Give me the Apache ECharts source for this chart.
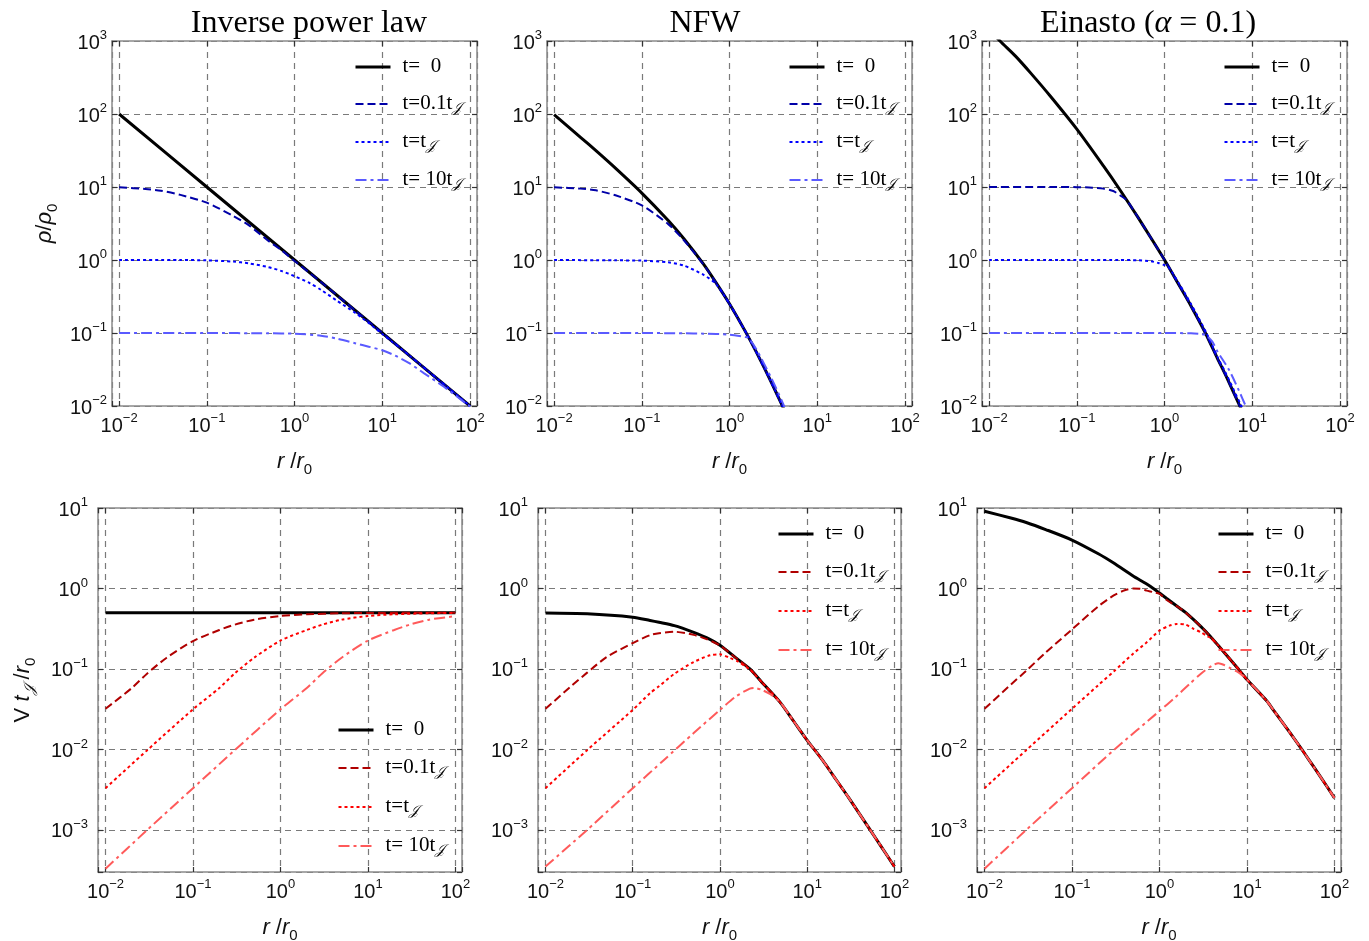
<!DOCTYPE html>
<html><head><meta charset="utf-8">
<script src="https://cdn.jsdelivr.net/npm/echarts@6/dist/echarts.min.js"></script>
<style>html,body{margin:0;padding:0;background:#fff}#c{width:1369px;height:941px}</style>
</head><body><div id="c"></div>
<script>
// ================= DATA =================
// x = r / r0, y = rho / rho0 (top row) or V tJ / r0 (bottom row)
const panelTitles = ['Inverse power law', 'NFW', 'Einasto (α = 0.1)'];
const legendLabels = ['t= 0', 't=0.1tJ', 't=tJ', 't= 10tJ'];
const xTickValues = [0.01, 0.1, 1, 10, 100];
const yTickValuesTop = [0.01, 0.1, 1, 10, 100, 1000];
const yTickValuesBottom = [0.001, 0.01, 0.1, 1, 10];

// --- Inverse power law: density ---
const iplRho0  = [[0.01,100],[0.1,10],[1,1],[10,0.1],[100,0.01]];
const iplRho01 = [[0.01,9.9],[0.02,9.4],[0.03,8.9],[0.05,7.8],[0.1,6.1],[0.2,4.0],[0.3,3.0],[0.5,1.84],[0.7,1.38],[1,0.97],[2,0.5],[5,0.2],[10,0.1],[100,0.01]];
const iplRho1  = [[0.01,1.0],[0.05,1.0],[0.1,0.99],[0.2,0.95],[0.3,0.9],[0.5,0.8],[0.7,0.71],[1,0.6],[1.5,0.48],[2,0.39],[3,0.28],[5,0.186],[7,0.137],[10,0.097],[20,0.05],[100,0.01]];
const iplRho10 = [[0.01,0.1],[0.1,0.1],[0.5,0.099],[1,0.098],[2,0.092],[3,0.084],[5,0.072],[7,0.065],[10,0.058],[14,0.049],[20,0.039],[30,0.028],[50,0.0185],[100,0.0098]];

// --- NFW: density ---
const nfwRho0  = [[0.01,98],[0.02,48],[0.03,31.4],[0.05,18.1],[0.1,8.26],[0.2,3.47],[0.3,1.97],[0.5,0.89],[0.7,0.49],[1,0.25],[1.5,0.107],[2,0.056],[3,0.021],[4,0.01],[5,0.0056]];
const nfwRho01 = [[0.01,9.9],[0.02,9.5],[0.03,9.0],[0.05,7.7],[0.1,5.6],[0.2,3.1],[0.3,1.88],[0.5,0.88],[0.7,0.49],[1,0.25],[1.5,0.107],[2,0.056],[3,0.021],[4,0.01],[5,0.0056]];
const nfwRho1  = [[0.01,1.0],[0.05,0.99],[0.1,0.98],[0.2,0.93],[0.3,0.84],[0.5,0.63],[0.7,0.47],[1,0.25],[1.5,0.107],[2,0.056],[3,0.021],[4,0.01],[5,0.0056]];
const nfwRho10 = [[0.01,0.1],[0.1,0.1],[0.3,0.099],[0.5,0.098],[1,0.095],[1.5,0.088],[1.65,0.085],[2,0.061],[3,0.024],[4,0.0113],[5,0.006]];

// --- Einasto (alpha = 0.1): density ---
const einRho0  = [[0.01,1450],[0.0133,1000],[0.02,620],[0.03,360],[0.05,175],[0.1,62],[0.2,19.6],[0.3,9.7],[0.5,3.8],[0.7,2.0],[1,1],[1.5,0.43],[2,0.235],[2.92,0.1],[4,0.045],[5,0.026],[7.2,0.01],[8,0.0076]];
const einRho01 = [[0.01,10],[0.05,10],[0.1,9.95],[0.15,9.8],[0.2,9.5],[0.26,8.8],[0.31,7.7],[0.37,6.6],[0.5,3.8],[0.7,2.0],[1,1],[1.5,0.43],[2,0.235],[2.92,0.1],[4,0.045],[5,0.026],[7.2,0.01],[8,0.0076]];
const einRho1  = [[0.01,1],[0.3,1],[0.5,0.99],[0.7,0.96],[0.85,0.91],[1,0.85],[1.11,0.8],[1.5,0.45],[2,0.25],[3,0.1],[4,0.047],[5,0.028],[7.5,0.01],[8.5,0.0075]];
const einRho10 = [[0.01,0.1],[1,0.1],[2,0.099],[2.5,0.097],[2.95,0.094],[3.5,0.076],[4,0.056],[5.4,0.0316],[7,0.0165],[8.4,0.01],[9.5,0.0072]];

// --- Inverse power law: velocity ---
const iplV0  = [[0.01,0.5],[0.1,0.5],[1,0.5],[10,0.5],[100,0.5]];
const iplV01 = [[0.01,0.032],[0.02,0.058],[0.03,0.088],[0.05,0.138],[0.1,0.222],[0.2,0.305],[0.3,0.355],[0.5,0.41],[1,0.455],[2,0.478],[5,0.492],[10,0.496],[100,0.5]];
const iplV1  = [[0.01,0.0033],[0.03,0.0098],[0.1,0.0315],[0.2,0.058],[0.3,0.088],[0.5,0.138],[1,0.225],[2,0.305],[3,0.355],[5,0.41],[10,0.455],[20,0.478],[50,0.492],[100,0.496]];
const iplV10 = [[0.01,0.00033],[0.03,0.001],[0.1,0.0033],[0.3,0.0098],[1,0.0315],[2,0.058],[3,0.088],[5,0.138],[10,0.225],[20,0.305],[30,0.355],[50,0.41],[100,0.452]];

// --- NFW: velocity ---
const nfwV0  = [[0.01,0.495],[0.03,0.485],[0.1,0.44],[0.158,0.40],[0.2,0.38],[0.3,0.345],[0.5,0.285],[0.7,0.245],[1,0.197],[1.5,0.139],[2.2,0.1],[3,0.069],[4.85,0.039],[7,0.0224],[10,0.013],[15.2,0.0072],[20,0.0047],[30,0.0025],[52.7,0.001],[70,0.00063],[100,0.00035]];
const nfwV01 = [[0.01,0.032],[0.02,0.062],[0.03,0.09],[0.05,0.14],[0.1,0.21],[0.158,0.263],[0.2,0.278],[0.3,0.29],[0.5,0.265],[0.7,0.235],[1,0.196],[1.5,0.139],[2.2,0.1],[3,0.069],[4.85,0.039],[7,0.0224],[10,0.013],[15.2,0.0072],[20,0.0047],[30,0.0025],[52.7,0.001],[70,0.00063],[100,0.00035]];
const nfwV1  = [[0.01,0.0033],[0.03,0.0098],[0.1,0.031],[0.158,0.05],[0.2,0.061],[0.3,0.087],[0.5,0.122],[0.77,0.148],[1,0.152],[1.3,0.137],[1.6,0.124],[2,0.106],[2.2,0.099],[3,0.069],[4.85,0.039],[7,0.0224],[10,0.013],[15.2,0.0072],[20,0.0047],[30,0.0025],[52.7,0.001],[70,0.00063],[100,0.00035]];
const nfwV10 = [[0.01,0.00035],[0.03,0.001],[0.1,0.0033],[0.225,0.0073],[0.5,0.016],[1,0.031],[1.5,0.045],[2.2,0.057],[2.5,0.058],[3,0.055],[3.73,0.049],[4.85,0.039],[7,0.0224],[10,0.013],[15.2,0.0072],[20,0.0047],[30,0.0025],[52.7,0.001],[70,0.00063],[100,0.00035]];

// --- Einasto: velocity ---
const einV0  = [[0.01,9.1],[0.02,7.5],[0.03,6.6],[0.05,5.4],[0.1,4.0],[0.2,2.7],[0.3,2.07],[0.5,1.43],[0.7,1.15],[0.85,1.0],[1,0.877],[1.21,0.75],[1.72,0.565],[2,0.5],[3,0.334],[3.8,0.255],[4.53,0.205],[5,0.181],[7.67,0.105],[10,0.074],[16.9,0.04],[20,0.031],[30,0.017],[42.4,0.01],[50,0.0077],[70,0.0045],[100,0.0025]];
const einV01 = [[0.01,0.032],[0.02,0.064],[0.03,0.095],[0.05,0.16],[0.1,0.31],[0.2,0.6],[0.3,0.82],[0.4,0.95],[0.5,1.0],[0.6,0.99],[0.72,0.94],[0.85,0.9],[1,0.86],[1.21,0.72],[1.72,0.565],[2,0.5],[3,0.334],[3.8,0.255],[4.53,0.205],[5,0.181],[7.67,0.105],[10,0.074],[16.9,0.04],[20,0.031],[30,0.017],[42.4,0.01],[50,0.0077],[70,0.0045],[100,0.0025]];
const einV1  = [[0.01,0.0033],[0.03,0.0098],[0.1,0.032],[0.2,0.063],[0.3,0.093],[0.5,0.155],[0.7,0.21],[1,0.30],[1.3,0.345],[1.58,0.363],[2,0.355],[2.45,0.315],[3,0.285],[3.5,0.257],[3.8,0.245],[4.53,0.205],[5,0.181],[7.67,0.105],[10,0.074],[16.9,0.04],[20,0.031],[30,0.017],[42.4,0.01],[50,0.0077],[70,0.0045],[100,0.0025]];
const einV10 = [[0.01,0.00033],[0.03,0.001],[0.1,0.0033],[0.3,0.0098],[1,0.030],[1.5,0.044],[2.24,0.066],[3,0.088],[4,0.11],[4.72,0.118],[5.5,0.112],[6.5,0.102],[7.67,0.093],[9,0.082],[10,0.074],[16.9,0.04],[20,0.031],[30,0.017],[42.4,0.01],[50,0.0077],[70,0.0045],[100,0.0025]];

// ================= LAYOUT / STYLE =================
const SANS = "'Liberation Sans', Arial, Helvetica, sans-serif";
const SERIF = "'Liberation Serif', 'Times New Roman', serif";
const SCRIPTJ = '\uD835\uDCA5';

const panels = [
  {grid:{left:112,top:41,width:365,height:365}, x:[0.0083,120], y:[0.01,1000], data:[iplRho0,iplRho01,iplRho1,iplRho10], pal:'blue', leg:{left:354,top:56,gap:16}, yName:'rho', labM:5},
  {grid:{left:547,top:41,width:365,height:365}, x:[0.0083,120], y:[0.01,1000], data:[nfwRho0,nfwRho01,nfwRho1,nfwRho10], pal:'blue', leg:{left:788,top:56,gap:16}, labM:5},
  {grid:{left:982,top:41,width:365,height:365}, x:[0.0083,120], y:[0.01,1000], data:[einRho0,einRho01,einRho1,einRho10], pal:'blue', leg:{left:1223,top:56,gap:16}, labM:5},
  {grid:{left:98,top:508,width:364,height:364}, x:[0.0082,119], y:[0.0003,10], data:[iplV0,iplV01,iplV1,iplV10], pal:'red', leg:{left:337,top:719,gap:17}, yName:'vel', labM:10},
  {grid:{left:538,top:508,width:363,height:364}, x:[0.0082,119], y:[0.0003,10], data:[nfwV0,nfwV01,nfwV1,nfwV10], pal:'red', leg:{left:777,top:523,gap:17}, labM:10},
  {grid:{left:977,top:508,width:364,height:364}, x:[0.0082,119], y:[0.0003,10], data:[einV0,einV01,einV1,einV10], pal:'red', leg:{left:1217,top:523,gap:17}, labM:10}
];

const palettes = {
  blue: [{color:'#000000',width:3,type:'solid'},{color:'#0000a8',width:2,type:[8,4]},{color:'#0000ff',width:2,type:[3,3]},{color:'#5a5aff',width:2,type:[11,4,3,4]}],
  red:  [{color:'#000000',width:3,type:'solid'},{color:'#b00000',width:2,type:[8,4]},{color:'#ff0000',width:2,type:[3,3]},{color:'#ff5a5a',width:2,type:[11,4,3,4]}]
};

function expLabel(v){
  const e = Math.log10(v), n = Math.round(e);
  if (Math.abs(e - n) > 0.02) return '';
  return '{b|10}{s|' + (n < 0 ? '\u2212' + (-n) : String(n)) + '}';
}
const tickRich = {
  b:{fontFamily:SANS,fontSize:20,lineHeight:24,color:'#111',verticalAlign:'bottom'},
  s:{fontFamily:SANS,fontSize:13,lineHeight:12,color:'#111',verticalAlign:'top'}
};
const nameRich = {
  i:{fontFamily:SANS,fontStyle:'italic',fontSize:22,lineHeight:26,color:'#111',verticalAlign:'top'},
  n:{fontFamily:SANS,fontSize:22,lineHeight:26,color:'#111',verticalAlign:'top'},
  sub:{fontFamily:SANS,fontSize:15,lineHeight:16,color:'#111',verticalAlign:'bottom'},
  j:{fontFamily:"'DejaVu Serif', serif",fontStyle:'italic',fontSize:15,lineHeight:16,color:'#111',verticalAlign:'bottom'}
};
const legRich = {
  n:{fontFamily:SERIF,fontSize:21,lineHeight:22,color:'#000',verticalAlign:'top'},
  j:{fontFamily:"'DejaVu Serif', serif",fontStyle:'italic',fontSize:14,lineHeight:14,color:'#000',verticalAlign:'bottom'}
};
const legendRichText = [
  '{n|t=  0}',
  '{n|t=0.1t}{j|' + SCRIPTJ + '}',
  '{n|t=t}{j|' + SCRIPTJ + '}',
  '{n|t= 10t}{j|' + SCRIPTJ + '}'
];

const frameLine = {show:true, onZero:false, lineStyle:{color:'#8a8a8a', width:1.5}};
const tickStyle = {show:true, inside:true, length:5, lineStyle:{color:'#333', width:1.2}};
const gridLine = {show:true, lineStyle:{color:'#7a7a7a', width:1.2, type:[6,5]}};

const grids = [], xAxes = [], yAxes = [], series = [], legends = [];
panels.forEach((p, i) => {
  grids.push(Object.assign({show:false, containLabel:false, outerBoundsMode:'none'}, p.grid));
  const common = {type:'log', logBase:10, gridIndex:i, nameMoveOverlap:false};
  xAxes.push(Object.assign({}, common, {
    position:'bottom', min:p.x[0], max:p.x[1],
    axisLine:frameLine, axisTick:tickStyle, splitLine:gridLine,
    axisLabel:{show:true, margin:6, formatter:expLabel, rich:tickRich},
    name:'{i|r}{n| /}{i|r}{sub|0}', nameLocation:'middle', nameGap:45,
    nameTextStyle:{rich:nameRich}
  }));
  xAxes.push(Object.assign({}, common, {
    position:'top', min:p.x[0], max:p.x[1],
    axisLine:frameLine, axisTick:tickStyle, splitLine:{show:false}, axisLabel:{show:false}
  }));
  const yl = {
    position:'left', min:p.y[0], max:p.y[1],
    axisLine:frameLine, axisTick:tickStyle, splitLine:gridLine,
    axisLabel:{show:true, margin:p.labM, formatter:expLabel, rich:tickRich}
  };
  if (p.yName === 'rho') {
    Object.assign(yl, {name:'{i|ρ}{n|/}{i|ρ}{sub|0}', nameLocation:'middle', nameGap:52, nameTextStyle:{rich:nameRich}});
  } else if (p.yName === 'vel') {
    Object.assign(yl, {name:'{n|V }{i|t}{j|' + SCRIPTJ + '}{n| /}{i|r}{sub|0}', nameLocation:'middle', nameGap:60, nameTextStyle:{rich:nameRich}});
  }
  yAxes.push(Object.assign({}, common, yl));
  yAxes.push(Object.assign({}, common, {
    position:'right', min:p.y[0], max:p.y[1],
    axisLine:frameLine, axisTick:tickStyle, splitLine:{show:false}, axisLabel:{show:false}
  }));
  const pal = palettes[p.pal];
  const names = [];
  p.data.forEach((arr, k) => {
    const nm = 'p' + i + '_' + k;
    names.push({name:nm, itemStyle:{opacity:0}, lineStyle:{color:pal[k].color, width:pal[k].width, type:pal[k].type}});
    series.push({
      type:'line', name:nm, xAxisIndex:2*i, yAxisIndex:2*i, data:arr,
      symbol:'none', smooth:0.25, clip:true, silent:true, z:2+k,
      lineStyle:{color:pal[k].color, width:pal[k].width, type:pal[k].type}, itemStyle:{color:pal[k].color},
      emphasis:{disabled:true}
    });
  });
  legends.push({
    orient:'vertical', left:p.leg.left, top:p.leg.top, padding:0,
    itemWidth:35, itemHeight:22, itemGap:p.leg.gap, selectedMode:false,
    data:names, itemStyle:{opacity:0},
    formatter:(nm) => legendRichText[+nm.split('_')[1]],
    textStyle:{rich:legRich, padding:[0,0,0,7]}
  });
});

const titleFont = '32px ' + SERIF;
const graphics = [
  {type:'text', x:309, y:24, style:{text:panelTitles[0], font:titleFont, fill:'#000', align:'center', verticalAlign:'middle'}},
  {type:'text', x:705, y:24, style:{text:panelTitles[1], font:titleFont, fill:'#000', align:'center', verticalAlign:'middle'}},
  {type:'text', x:1148, y:24, style:{
    text:'{n|Einasto (}{a|α}{n| = 0.1)}', align:'center', verticalAlign:'middle', fill:'#000',
    rich:{n:{fontFamily:SERIF,fontSize:32,fill:'#000'}, a:{fontFamily:SERIF,fontStyle:'italic',fontSize:32,fill:'#000'}}
  }}
];

const chart = echarts.init(document.getElementById('c'), null, {renderer:'canvas'});
chart.setOption({
  animation:false, backgroundColor:'#fff',
  grid:grids, xAxis:xAxes, yAxis:yAxes, series:series, legend:legends, graphic:graphics,
  tooltip:{show:false}
});
</script></body></html>
